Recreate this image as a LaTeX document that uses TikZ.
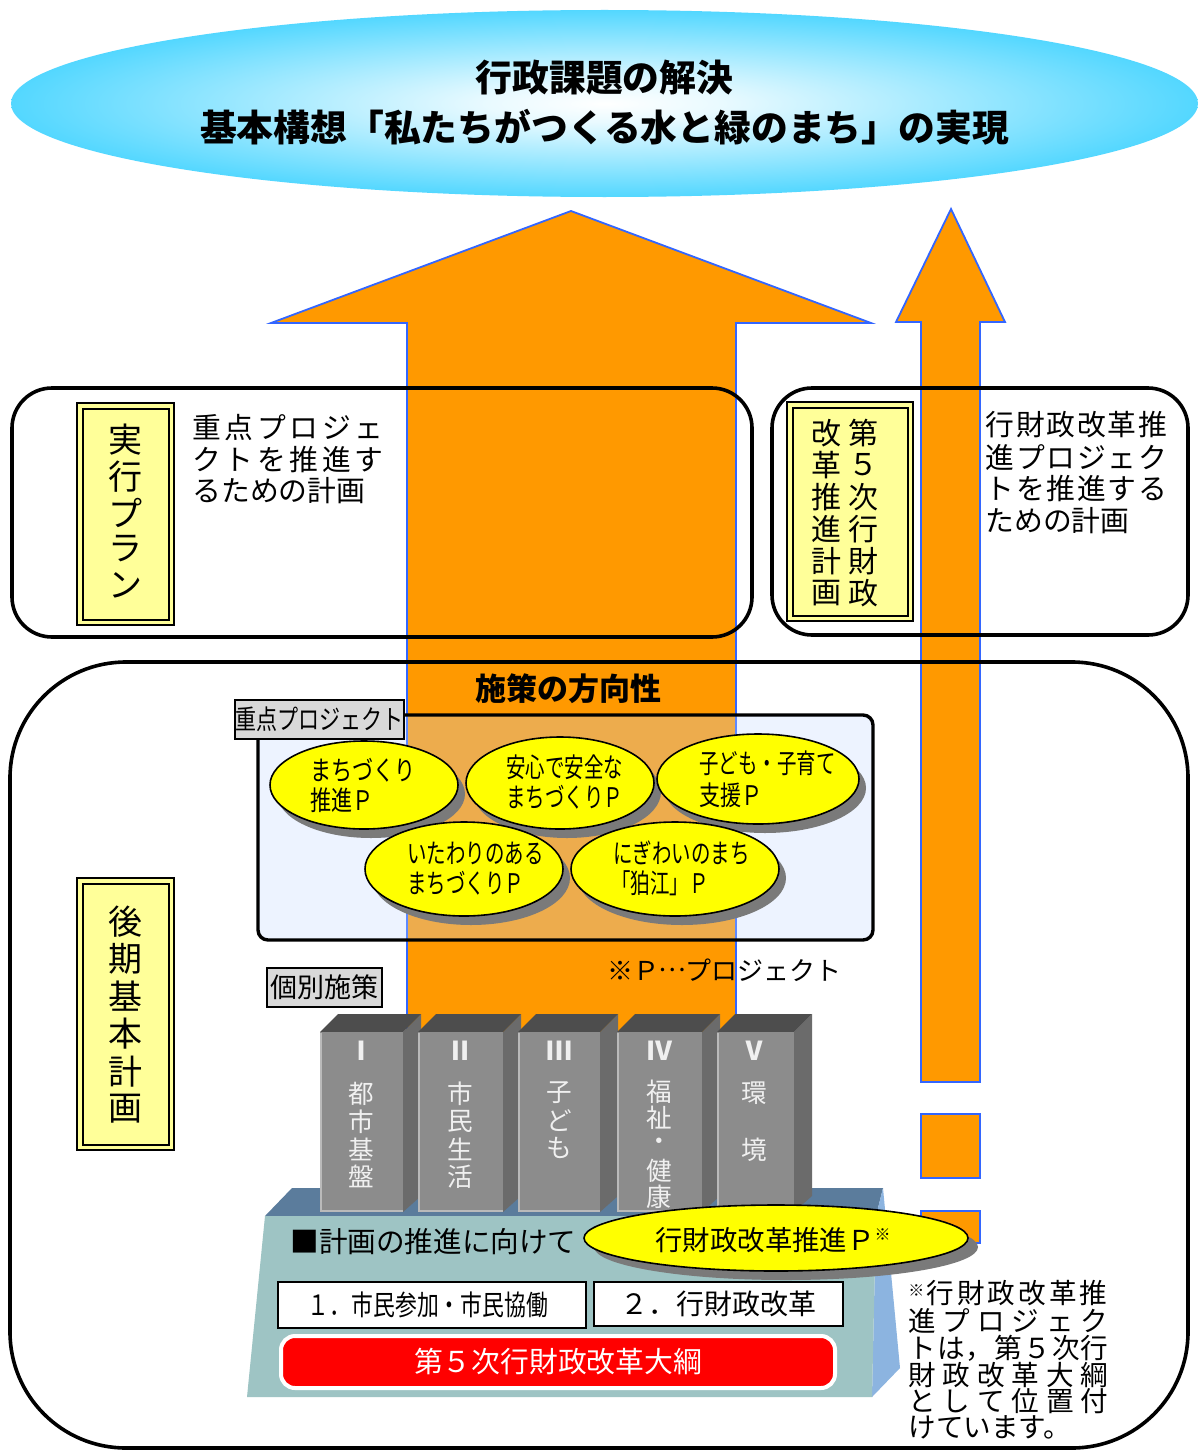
\documentclass[tikz,border=0pt]{standalone}
\usepackage{fontspec}
\setmainfont{Noto Sans CJK JP}
\newfontfamily\cjk{Noto Sans CJK JP}
\newfontfamily\cjkc[FakeStretch=0.78]{Noto Sans CJK JP}
\newfontfamily\cjkd[FakeStretch=0.72]{Noto Sans CJK JP}
\usetikzlibrary{calc}

\definecolor{arrowor}{HTML}{FF9900}
\definecolor{arrowbl}{HTML}{3366FF}
\definecolor{skyc}{HTML}{1FCBFF}
\definecolor{lblyel}{HTML}{FFFF99}
\definecolor{elyel}{HTML}{FFFF00}
\definecolor{lblgray}{HTML}{D9D9D9}
\definecolor{pilfront}{HTML}{8C8C8C}
\definecolor{piltop}{HTML}{4D4D4D}
\definecolor{pilside}{HTML}{6B6B6B}
\definecolor{pltop}{HTML}{5B7C9C}
\definecolor{plfront}{HTML}{9EC4C4}
\definecolor{plside}{HTML}{8CB4E0}
\definecolor{projfill}{HTML}{C4DAFF}
\definecolor{shadowc}{HTML}{7A7A7A}
\colorlet{skymid}{skyc!10!white}

\pgfdeclareradialshading{skyell}{\pgfpoint{0bp}{0bp}}{color(0bp)=(white); color(5bp)=(skymid); color(32bp)=(skyc); color(50bp)=(skyc)}

\makeatletter
\newcommand\vstack[6]{%
  \def\vs@y{#4}\def\vs@n{0}%
  \@tfor\vs@c:=#6\do{%
    \pgfmathtruncatemacro\vs@n{\vs@n+1}%
    \node[#1] (#2\vs@n) at (#3,\vs@y) {\vs@c};%
    \pgfmathsetmacro\vs@y{\vs@y+#5}%
  }%
}
\newcommand\spreadto[2]{\makebox[#1][s]{\def\sp@sep{}\@tfor\sp@c:=#2\do{\sp@sep\sp@c\def\sp@sep{\hfill}}}}
\makeatother

\tikzset{
  arrowshape/.style={fill=arrowor, draw=arrowbl, line width=0.9pt},
  planbox/.style={draw=black, line width=1.8pt, rounded corners=20pt},
  lblouter/.style={draw=black, line width=1.4pt, fill=lblyel},
  lblinner/.style={draw=black, line width=1pt},
  vchar/.style={inner sep=0pt, font=\cjk\fontsize{17pt}{17pt}\selectfont},
  vcharsm/.style={inner sep=0pt, font=\cjk\fontsize{15pt}{15pt}\selectfont},
  titletext/.style={inner sep=0pt, font=\cjk\bfseries\fontsize{18.4pt}{18.4pt}\selectfont},
  desctext/.style={inner sep=0pt, anchor=west, font=\cjk\fontsize{14.4pt}{14.4pt}\selectfont},
  grylabel/.style={draw=black, line width=0.8pt, fill=lblgray, inner sep=0pt},
  yelell/.style={draw=black, line width=0.8pt, fill=elyel},
  shadowell/.style={fill=shadowc},
  elltext/.style={inner sep=0pt, anchor=west, font=\cjkd\fontsize{13.5pt}{13.5pt}\selectfont},
  elltextw/.style={inner sep=0pt, anchor=west, font=\cjkc\fontsize{13.5pt}{13.5pt}\selectfont},
  piltext/.style={inner sep=0pt, text=white!94!black, font=\cjk\fontsize{12.8pt}{12.8pt}\selectfont},
  numtext/.style={inner sep=0pt, text=white!94!black, font=\cjk\bfseries\fontsize{13pt}{13pt}\selectfont},
  plantext/.style={inner sep=0pt, anchor=west, font=\cjk\fontsize{14.3pt}{14.3pt}\selectfont},
  whitebox/.style={draw=black, line width=1pt, fill=white},
  notetext/.style={inner sep=0pt, anchor=west, font=\cjk\fontsize{13.8pt}{13.8pt}\selectfont},
}

\begin{document}
\begin{tikzpicture}[x=0.5pt,y=-0.5pt]
\fill[white] (0,0) rectangle (1198,1450);
\useasboundingbox (0,0) rectangle (1198,1450);

% top goal ellipse
\shade[shading=skyell] (604.5,103.5) ellipse [x radius=296.75pt, y radius=46.75pt];
\node[titletext] (title1) at (604.5,78) {行政課題の解決};
\node[titletext] (title2) at (604.5,127) {基本構想「私たちがつくる水と緑のまち」の実現};

% arrows
\draw[arrowshape] (407,1200) -- (407,323) -- (271,323) -- (571,211) -- (871,323) -- (736,323) -- (736,1200) -- cycle;
\draw[arrowshape] (921,1082) -- (921,322) -- (896,322) -- (951,209) -- (1005,322) -- (980,322) -- (980,1082) -- cycle;
\draw[arrowshape] (921,1114) rectangle (980,1178);
\draw[arrowshape] (921,1211) rectangle (980,1243);

% upper plan boxes
\draw[planbox] (12,388) rectangle (752,637);
\draw[planbox] (772,388) rectangle (1188,635);

\draw[lblouter] (77,403) rectangle (174,625);
\draw[lblinner] (82.5,408.5) rectangle (168.5,619.5);
\vstack{vchar}{jp}{125}{440}{36.3}{実行プラン}

\node[desctext] (jd1) at (192,428) {\spreadto{95.5pt}{重点プロジェ}};
\node[desctext] (jd2) at (192,460) {\spreadto{95.5pt}{クトを推進す}};
\node[desctext] (jd3) at (192,491) {るための計画};

\draw[lblouter] (787,402) rectangle (913,621);
\draw[lblinner] (792.5,407.5) rectangle (907.5,615.5);
\vstack{vcharsm}{za}{863}{433}{32}{第５次行財政}
\vstack{vcharsm}{zb}{826}{433}{32}{改革推進計画}

\node[desctext] (zd1) at (985,425) {\spreadto{91pt}{行財政改革推}};
\node[desctext] (zd2) at (985,457) {\spreadto{91pt}{進プロジェク}};
\node[desctext] (zd3) at (985,489) {\spreadto{91pt}{トを推進する}};
\node[desctext] (zd4) at (985,521) {ための計画};

% lower big box
\draw[draw=black, line width=1.8pt, rounded corners=58pt] (10,662) rectangle (1188,1448);

\draw[lblouter] (77,878) rectangle (174,1150);
\draw[lblinner] (82.5,883.5) rectangle (168.5,1144.5);
\vstack{vchar}{kk}{125}{922}{37.3}{後期基本計画}

\node[inner sep=0pt, font=\cjk\bfseries\fontsize{15.5pt}{15.5pt}\selectfont] (dir) at (568,689) {施策の方向性};

% priority projects
\draw[line width=1.7pt, rounded corners=5pt, fill=projfill, fill opacity=0.3] (258,715) rectangle (873,940);
\node[grylabel, minimum width=84.5pt, minimum height=19.5pt, font=\cjkc\fontsize{13.5pt}{13.5pt}\selectfont] (jpl) at (319.5,719.5) {重点プロジェクト};

\fill[shadowell] (371,794) ellipse [x radius=47pt, y radius=22pt];
\draw[yelell] (364,785) ellipse [x radius=47pt, y radius=22pt];
\node[elltextw] (e1a) at (310,770) {まちづくり};
\node[elltextw] (e1b) at (310,800) {推進Ｐ};

\fill[shadowell] (567,792) ellipse [x radius=47pt, y radius=23pt];
\draw[yelell] (560,783) ellipse [x radius=47pt, y radius=23pt];
\node[elltext] (e2a) at (506,767) {安心で安全な};
\node[elltext] (e2b) at (506,797) {まちづくりＰ};

\fill[shadowell] (765,788) ellipse [x radius=50.5pt, y radius=22.5pt];
\draw[yelell] (758,779) ellipse [x radius=50.5pt, y radius=22.5pt];
\node[elltext] (e3a) at (699,763) {子ども・子育て};
\node[elltextw] (e3b) at (699,795) {支援Ｐ};

\fill[shadowell] (471,878) ellipse [x radius=49.5pt, y radius=23.5pt];
\draw[yelell] (464,869) ellipse [x radius=49.5pt, y radius=23.5pt];
\node[elltext] (e4a) at (407,853) {いたわりのある};
\node[elltext] (e4b) at (407,883) {まちづくりＰ};

\fill[shadowell] (682,878) ellipse [x radius=52pt, y radius=23.5pt];
\draw[yelell] (675,869) ellipse [x radius=52pt, y radius=23.5pt];
\node[elltext] (e5a) at (613,853) {にぎわいのまち};
\node[elltext] (e5b) at (611,883) {「狛江」Ｐ};

\node[inner sep=0pt, anchor=west, font=\cjk\fontsize{13pt}{13pt}\selectfont] (pnote) at (607,970) {※Ｐ\makebox[13pt]{\raisebox{0.33em}{…}}プロジェクト};

% individual measures
\node[grylabel, minimum width=57.5pt, minimum height=19.5pt, font=\cjk\fontsize{13.5pt}{13.5pt}\selectfont] (kbl) at (324.5,987.5) {個別施策};

% platform
\fill[pltop] (292,1188) -- (883,1188) -- (876,1216) -- (265,1216) -- cycle;
\fill[plside] (876,1216) -- (883,1188) -- (900,1368) -- (872,1397) -- cycle;
\fill[plfront] (265,1216) -- (876,1216) -- (872,1397) -- (247,1397) -- cycle;

% pillars
\foreach \xa/\xb in {320/403, 418/503, 518/600, 617/702, 717/794}{
  \fill[pilside] (\xb,1032) -- (\xb+18,1014) -- (\xb+18,1196) -- (\xb,1212) -- cycle;
  \fill[piltop] (\xa,1032) -- (\xa+18,1014) -- (\xb+18,1014) -- (\xb,1032) -- cycle;
  \fill[pilfront] (\xa,1032) rectangle (\xb,1212);
  \draw[pilfront!60!white, line width=0.8pt] (\xa+1,1033) -- (\xa+1,1211) -- (\xb,1211);
}
\node[numtext] (n1) at (361.5,1051) {Ⅰ};
\node[numtext] (n2) at (460.5,1051) {Ⅱ};
\node[numtext] (n3) at (559,1051) {Ⅲ};
\node[numtext] (n4) at (659.5,1051) {Ⅳ};
\node[numtext] (n5) at (754,1051) {Ⅴ};
\vstack{piltext}{pa}{361.5}{1094}{27.5}{都市基盤}
\vstack{piltext}{pb}{460.5}{1094}{27.5}{市民生活}
\vstack{piltext}{pc}{559}{1093}{27.3}{子ども}
\vstack{piltext}{pd}{659.5}{1092}{26.2}{福祉・健康}
\node[piltext] (pe1) at (754,1093) {環};
\node[piltext] (pe2) at (754,1150) {境};

% plan promotion
\node[plantext] (plan) at (290,1242) {■計画の推進に向けて};

\fill[shadowell] (786,1247) ellipse [x radius=96pt, y radius=16.5pt];
\draw[yelell] (776,1238) ellipse [x radius=96pt, y radius=16.5pt];
\node[inner sep=0pt, anchor=west, font=\cjk\fontsize{13.7pt}{13.7pt}\selectfont] (gyo) at (655,1240) {行財政改革推進Ｐ\raisebox{5pt}{\fontsize{8pt}{8pt}\selectfont ※}};

\draw[whitebox] (278,1282) rectangle (586,1328);
\node[inner sep=0pt, font=\cjkc\fontsize{14pt}{14pt}\selectfont] (b1) at (428,1305) {１．市民参加・市民協働};
\draw[whitebox] (594,1282) rectangle (843,1326);
\node[inner sep=0pt, font=\cjk\fontsize{14pt}{14pt}\selectfont] (b2) at (718.5,1304) {２．行財政改革};

\draw[fill=red, draw=white, line width=2pt, rounded corners=7pt] (281,1336) rectangle (835,1388);
\node[inner sep=0pt, text=white, font=\cjk\fontsize{14.4pt}{14.4pt}\selectfont] (red) at (558,1362) {第５次行財政改革大綱};

% footnote
\node[notetext] (nt1) at (908,1293) {\raisebox{3.5pt}{\fontsize{8pt}{8pt}\selectfont ※}\hspace{1pt}\spreadto{90.5pt}{行財政改革推}};
\node[notetext] (nt2) at (908,1321) {\spreadto{100pt}{進プロジェク}};
\node[notetext] (nt3) at (908,1348) {\spreadto{100pt}{トは，第５次行}};
\node[notetext] (nt4) at (908,1375) {\spreadto{100pt}{財政改革大綱}};
\node[notetext] (nt5) at (908,1401) {\spreadto{100pt}{として位置付}};
\node[notetext] (nt6) at (908,1427) {けています。};
\end{tikzpicture}
\end{document}
